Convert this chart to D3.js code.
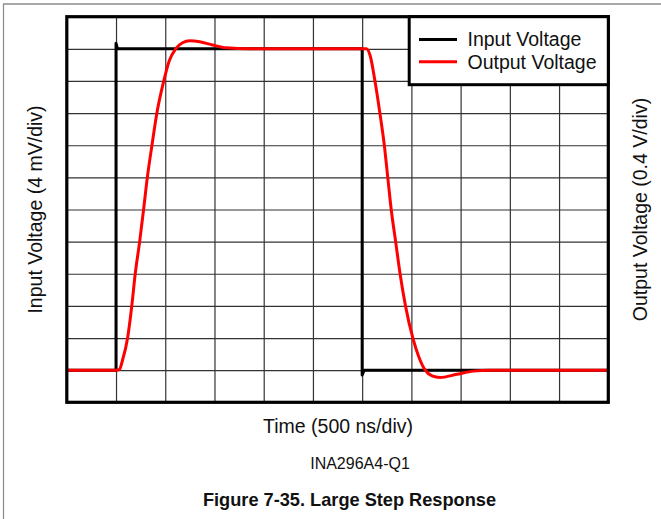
<!DOCTYPE html>
<html>
<head>
<meta charset="utf-8">
<script src="https://cdn.jsdelivr.net/npm/d3@7"></script>
<style>
  html, body { margin: 0; padding: 0; background: #fff; }
  svg { display: block; font-family: "Liberation Sans", Arial, sans-serif; }
</style>
</head>
<body>
<svg id="chart" width="661" height="519"></svg>
<script>
// Data (time in divisions of 500 ns, voltage in divisions)
const inputVoltage = [
  [0, 1], [1.0, 1], [1.0, 11.17], [1.03, 11.0], [2, 11.0], [3, 11.0],
  [4, 11.0], [5, 11.0], [6.0, 11.0], [6.0, 0.85], [6.04, 1.0], [8, 1.0], [11, 1.0]
];
const outputVoltage = [
  [0, 1], [1.0, 1], [1.07, 1.02], [1.13, 1.3], [1.235, 2], [1.32, 3], [1.39, 4],
  [1.48, 5], [1.56, 6], [1.636, 7], [1.73, 8], [1.83, 9], [1.97, 10], [2.08, 10.62],
  [2.21, 11.0], [2.35, 11.19], [2.5, 11.25], [2.7, 11.22], [2.96, 11.12], [3.24, 11.03],
  [3.72, 11.0], [5, 11.0], [6.08, 11.0], [6.16, 10.8], [6.26, 10], [6.36, 9], [6.45, 8],
  [6.52, 7], [6.59, 6], [6.68, 5], [6.77, 4], [6.88, 3], [7.03, 2], [7.15, 1.42],
  [7.28, 1.0], [7.42, 0.82], [7.58, 0.77], [7.92, 0.87], [8.26, 0.97], [8.6, 1.0], [11, 1.0]
];
const xDivisions = d3.range(0, 12);   // 11 time divisions
const yDivisions = d3.range(0, 13);   // 12 voltage divisions
const legendLabels = ["Input Voltage", "Output Voltage"];
const seriesColors = ["#000000", "#ff0000"];
const xTitle = "Time (500 ns/div)";
const yTitleLeft = "Input Voltage (4 mV/div)";
const yTitleRight = "Output Voltage (0.4 V/div)";
const partLabel = "INA296A4-Q1";
const caption = "Figure 7-35. Large Step Response";

const svg = d3.select("#chart");
const L = 66.8, R = 608.3, T = 16.7, B = 402.3;
const x = d3.scaleLinear().domain([0, 11]).range([L, R]);
const y = d3.scaleLinear().domain([0, 12]).range([B, T]);

// page frame
svg.append("line").attr("x1", 3).attr("x2", 661).attr("y1", 4).attr("y2", 4)
  .attr("stroke", "#8a8a8a").attr("stroke-width", 1.6);
svg.append("line").attr("x1", 3.5).attr("x2", 3.5).attr("y1", 4).attr("y2", 519)
  .attr("stroke", "#8a8a8a").attr("stroke-width", 1.2);

// grid via axes
const gridG = svg.append("g");
gridG.append("g").attr("transform", `translate(0,${B})`)
  .call(d3.axisBottom(x).tickValues(xDivisions.slice(1, -1)).tickSize(-(B - T)).tickFormat(""))
  .call(g => g.select(".domain").remove())
  .call(g => g.selectAll("line").attr("stroke", "#333").attr("stroke-width", 1.2));
gridG.append("g").attr("transform", `translate(${L},0)`)
  .call(d3.axisLeft(y).tickValues(yDivisions.slice(1, -1)).tickSize(-(R - L)).tickFormat(""))
  .call(g => g.select(".domain").remove())
  .call(g => g.selectAll("line").attr("stroke", "#333").attr("stroke-width", 1.2));

// lines
const lineLin = d3.line().x(d => x(d[0])).y(d => y(d[1]));
const lineSmooth = d3.line().x(d => x(d[0])).y(d => y(d[1])).curve(d3.curveMonotoneX);
svg.append("path").datum(inputVoltage).attr("d", lineLin)
  .attr("fill", "none").attr("stroke", seriesColors[0]).attr("stroke-width", 3)
  .attr("stroke-linejoin", "round");
svg.append("path").datum(outputVoltage).attr("d", lineSmooth)
  .attr("fill", "none").attr("stroke", seriesColors[1]).attr("stroke-width", 3)
  .attr("stroke-linejoin", "round");

// plot border
svg.append("rect").attr("x", L).attr("y", T).attr("width", R - L).attr("height", B - T)
  .attr("fill", "none").attr("stroke", "#000").attr("stroke-width", 3.2);

// legend
const lgX = 409.2, lgY = T, lgW = R - lgX, lgH = 84.7 - T;
svg.append("rect").attr("x", lgX).attr("y", lgY).attr("width", lgW).attr("height", lgH)
  .attr("fill", "#fff").attr("stroke", "#000").attr("stroke-width", 3);
const legendY = [39.5, 61.7];
legendLabels.forEach((lab, i) => {
  svg.append("line").attr("x1", 419).attr("x2", 457).attr("y1", legendY[i]).attr("y2", legendY[i])
    .attr("stroke", seriesColors[i]).attr("stroke-width", 3);
  svg.append("text").attr("x", 467.5).attr("y", legendY[i]).attr("dy", "0.35em")
    .attr("font-size", 19.5).attr("fill", "#111").text(lab);
});

// titles
svg.append("text").attr("x", 338).attr("y", 426).attr("dy", "0.35em").attr("text-anchor", "middle")
  .attr("font-size", 19.5).attr("fill", "#111").text(xTitle);
svg.append("text").attr("transform", `translate(35,${(T + B) / 2}) rotate(-90)`)
  .attr("dy", "0.35em").attr("text-anchor", "middle")
  .attr("font-size", 19.5).attr("fill", "#111").text(yTitleLeft);
svg.append("text").attr("transform", `translate(640,${(T + B) / 2}) rotate(-90)`)
  .attr("dy", "0.35em").attr("text-anchor", "middle")
  .attr("font-size", 19.5).attr("fill", "#111").text(yTitleRight);
svg.append("text").attr("x", 360).attr("y", 463).attr("dy", "0.35em").attr("text-anchor", "middle")
  .attr("font-size", 16).attr("fill", "#111").text(partLabel);
svg.append("text").attr("x", 349.5).attr("y", 500).attr("dy", "0.35em").attr("text-anchor", "middle")
  .attr("font-size", 18.2).attr("font-weight", "bold").attr("fill", "#111").text(caption);
</script>
</body>
</html>
